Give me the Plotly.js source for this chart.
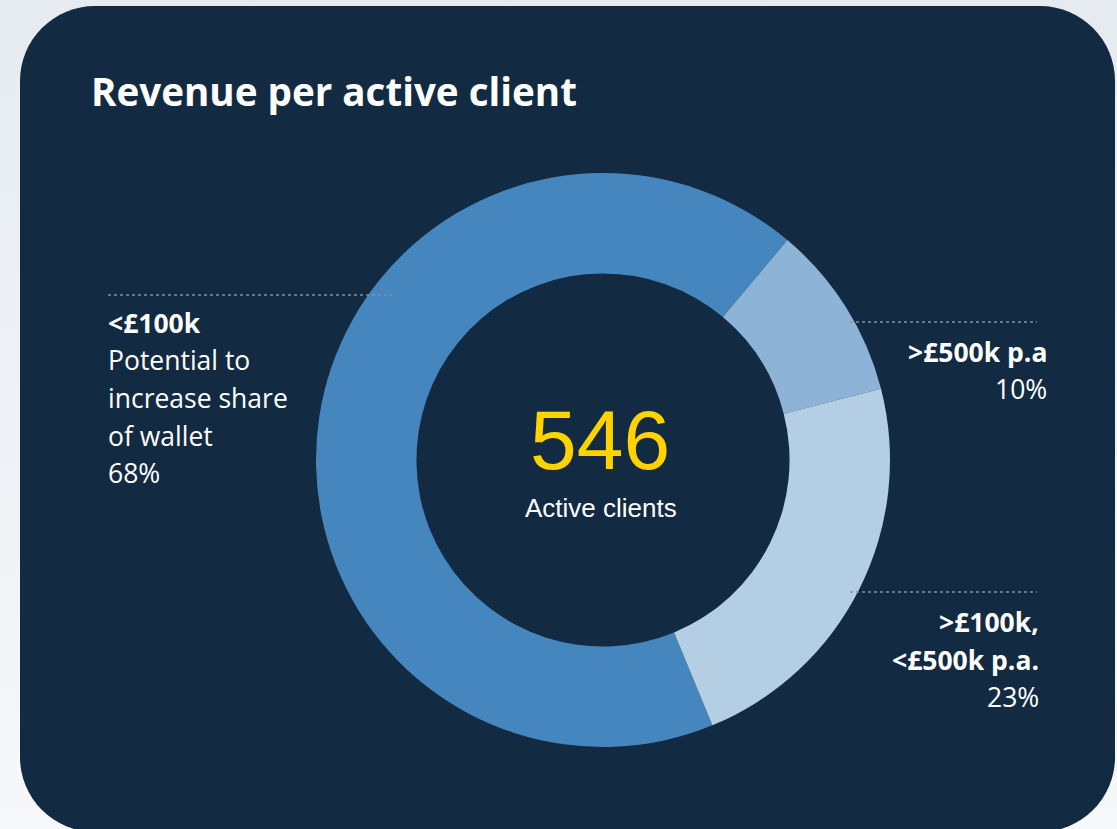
<!DOCTYPE html>
<html>
<head>
<meta charset="utf-8">
<script src="https://cdn.plot.ly/plotly-3.0.1.min.js"></script>
<style>
  html, body { margin: 0; padding: 0; width: 1117px; height: 829px; overflow: hidden;
    background: linear-gradient(180deg, #e6ebf0 0%, #f6f8fa 100%); }
  #panel { position: absolute; left: 20px; top: 6px; width: 1095px; height: 826px;
    border-radius: 75px; background: #132b42; }
  #chart { position: absolute; left: 0; top: 0; width: 1117px; height: 829px; }
</style>
</head>
<body>
<div id="panel"></div>
<div id="chart"></div>
<script>
// ---- data ----
const sliceLabels = ['<£100k', '>£500k p.a', '>£100k, <£500k p.a.'];
const sliceShares = [68, 10, 23];
const sliceColors = ['#4686bf', '#8db4d7', '#b4cfe4'];
const totalClients = 546;
const centerCaption = 'Active clients';
const chartTitle = 'Revenue per active client';
const leftDescription = ['Potential to', 'increase share', 'of wallet'];
const topRightHeading = ['>£500k p.a'];
const bottomRightHeading = ['>£100k,', '<£500k p.a.'];

// ---- layout helpers ----
const W = 1117, H = 829;
const px = x => x / W;
const py = y => 1 - y / H;
const LBL = '"Open Sans", "Noto Sans", sans-serif';
const LS = 26.5;

const annotations = [];
function ann(text, x, y, anchor, size, family, color, bold) {
  annotations.push({
    text: bold ? '<b>' + text + '</b>' : text,
    x: px(x), y: py(y), xref: 'paper', yref: 'paper',
    xanchor: anchor, yanchor: 'middle', showarrow: false,
    font: { family: family, size: size, color: color }
  });
}

// title
ann(chartTitle, 89, 91, 'left', 38.6, '"Open Sans", sans-serif', '#ffffff', true);

// left label block
ann(sliceLabels[0], 106, 323, 'left', LS, LBL, '#ffffff', true);
const leftY = [360, 398, 436];
leftDescription.forEach((t, i) => ann(t, 106, leftY[i], 'left', LS, LBL, '#ffffff', false));
ann(sliceShares[0] + '%', 106, 473, 'left', LS, LBL, '#ffffff', false);

// top right block
ann(topRightHeading[0], 1049, 352, 'right', LS, LBL, '#ffffff', true);
ann(sliceShares[1] + '%', 1049, 389, 'right', LS, LBL, '#ffffff', false);

// bottom right block
ann(bottomRightHeading[0], 1041, 622, 'right', LS, LBL, '#ffffff', true);
ann(bottomRightHeading[1], 1041, 660, 'right', LS, LBL, '#ffffff', true);
ann(sliceShares[2] + '%', 1041, 697, 'right', LS, LBL, '#ffffff', false);

// centre
ann(String(totalClients), 600, 440, 'center', 84, '"Liberation Sans", Arial, sans-serif', '#ffd200', false);
ann(centerCaption, 601, 508, 'center', 26, '"Liberation Sans", Arial, sans-serif', '#ffffff', false);

// dotted leader lines
const dot = { color: '#8a9098', width: 1.5, dash: 'dot' };
const shapes = [
  { type: 'line', xref: 'paper', yref: 'paper', x0: px(108), x1: px(392), y0: py(295), y1: py(295), line: dot },
  { type: 'line', xref: 'paper', yref: 'paper', x0: px(850), x1: px(1037), y0: py(322), y1: py(322), line: dot },
  { type: 'line', xref: 'paper', yref: 'paper', x0: px(850), x1: px(1037), y0: py(592), y1: py(592), line: dot }
];

const cx = 603, cy = 460, R = 287;
const trace = {
  type: 'pie',
  labels: sliceLabels,
  values: sliceShares,
  marker: { colors: sliceColors, line: { width: 0 } },
  hole: 0.65,
  sort: false,
  direction: 'clockwise',
  rotation: 157.6,
  textinfo: 'none',
  hoverinfo: 'none',
  showlegend: false,
  domain: { x: [px(cx - R), px(cx + R)], y: [py(cy + R), py(cy - R)] }
};

Plotly.newPlot('chart', [trace], {
  width: W, height: H,
  margin: { l: 0, r: 0, t: 0, b: 0 },
  paper_bgcolor: 'rgba(0,0,0,0)',
  plot_bgcolor: 'rgba(0,0,0,0)',
  showlegend: false,
  annotations: annotations,
  shapes: shapes
}, { displayModeBar: false, staticPlot: true });
</script>
</body>
</html>
